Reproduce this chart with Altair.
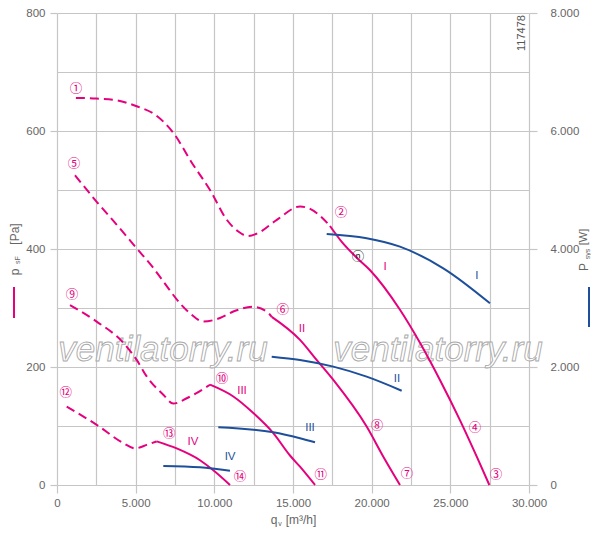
import altair as alt
import pandas as pd

PINK = "#e5007d"
BLUE = "#1d4f9b"
GRID = "#c6c6c6"
TXT = "#666666"

# ---------------- pressure curves  p_sF [Pa]  vs  q_v [m3/h]
Q_1_DASH = [1200, 2500, 3800, 5066, 6270, 7390, 8600, 9725, 10780, 11500, 12150, 12700, 13950, 15450, 16000, 16850, 17350]
P_1_DASH = [656, 655, 652, 642, 627, 597, 545, 500, 450, 430, 422, 426, 449, 472, 469, 453, 439]
Q_1_SOLID = [17350, 18100, 19100, 19900, 21800, 23070, 24340, 25610, 26680, 27480]
P_1_SOLID = [439, 412, 384, 364, 297, 241, 178, 110, 48, 0]

Q_2_DASH = [1144, 2523, 3800, 5066, 6121, 6757, 7818, 8453, 9299, 10360, 11206, 12477, 13329, 13647]
P_2_DASH = [525, 480, 441, 401, 368, 345, 308, 291, 277, 283, 294, 302, 294, 285]
Q_2_SOLID = [13647, 15445, 16500, 17563, 19682, 20741, 21800]
P_2_SOLID = [285, 246, 212, 178, 99, 48, 0]

Q_3_DASH = [826, 2523, 4214, 5066, 5701, 6757, 7392, 8244, 9725]
P_3_DASH = [305, 277, 241, 212, 184, 153, 138, 147, 170]
Q_3_SOLID = [9725, 11206, 12477, 13748, 14809, 15445, 16399]
P_3_SOLID = [170, 150, 122, 88, 50, 31, 0]

Q_4_DASH = [616, 2523, 4214, 4958, 5701, 6337]
P_4_DASH = [133, 102, 71, 62, 68, 74]
Q_4_SOLID = [6337, 7608, 9089, 9935, 10996]
P_4_SOLID = [74, 62, 42, 25, 0]

# ---------------- power curves  P_sys [W]
Q_PW_1 = [17142, 19682, 21800, 24553, 27519]
W_PW_1 = [4254, 4183, 4040, 3673, 3080]
Q_PW_2 = [13647, 15445, 17563, 19682, 21908]
W_PW_2 = [2175, 2119, 2006, 1836, 1598]
Q_PW_3 = [10252, 13748, 15445, 16399]
W_PW_3 = [978, 893, 792, 724]
Q_PW_4 = [6757, 9089, 10996]
W_PW_4 = [322, 300, 242]

# ---------------- point labels
CIRCLE_TXT = ["①", "②", "③", "④", "⑤", "⑥", "⑦", "⑧", "⑨", "⑩", "⑪", "⑫", "⑬", "⑭"]
CIRCLE_Q = [1208, 18050, 27900, 26570, 1080, 14345, 22250, 20340, 953, 10490, 16760, 553, 7140, 11630]
CIRCLE_P = [671, 461, 17, 97, 544, 297, 19, 100, 322, 180, 17, 156, 86, 14]
N_TXT = ["ⓝ"]
N_Q = [19130]
N_P = [386]

ROMAN = ["I", "II", "III", "IV"]
ROMAN_PINK_Q = [20850, 15570, 11760, 8640]
ROMAN_PINK_P = [369, 264, 159, 73]
ROMAN_BLUE_Q = [26690, 21610, 16080, 11000]
ROMAN_BLUE_W = [3540, 1800, 970, 470]

X_TICKS = list(range(0, 30001, 2500))
Y_TICKS = list(range(0, 801, 100))
W_TICKS = list(range(0, 8001, 2000))


def frame(curve, q, v):
    return pd.DataFrame({"curve": curve, "q": q, "v": v})


dash_df = pd.concat([frame("1", Q_1_DASH, P_1_DASH), frame("2", Q_2_DASH, P_2_DASH),
                     frame("3", Q_3_DASH, P_3_DASH), frame("4", Q_4_DASH, P_4_DASH)])
solid_df = pd.concat([frame("1", Q_1_SOLID, P_1_SOLID), frame("2", Q_2_SOLID, P_2_SOLID),
                      frame("3", Q_3_SOLID, P_3_SOLID), frame("4", Q_4_SOLID, P_4_SOLID)])
power_df = pd.concat([frame("1", Q_PW_1, W_PW_1), frame("2", Q_PW_2, W_PW_2),
                      frame("3", Q_PW_3, W_PW_3), frame("4", Q_PW_4, W_PW_4)])
circle_df = pd.DataFrame({"t": CIRCLE_TXT, "q": CIRCLE_Q, "v": CIRCLE_P})
n_df = pd.DataFrame({"t": N_TXT, "q": N_Q, "v": N_P})
rp_df = pd.DataFrame({"t": ROMAN, "q": ROMAN_PINK_Q, "v": ROMAN_PINK_P})
rb_df = pd.DataFrame({"t": ROMAN, "q": ROMAN_BLUE_Q, "v": ROMAN_BLUE_W})

FONT = "Liberation Sans"

X_ENC = alt.X(
    "q:Q",
    scale=alt.Scale(domain=[0, 30000], nice=False, zero=False),
    axis=alt.Axis(
        values=X_TICKS, title=None, grid=True, gridColor=GRID, gridWidth=1.2,
        domain=False, tickColor=GRID, tickWidth=1.2, tickSize=8,
        tickOpacity={"condition": {"test": "datum.value % 5000 === 0", "value": 1}, "value": 0},
        labelExpr="datum.value % 5000 === 0 ? replace(format(datum.value, ','), ',', '.') : ''",
        labelColor=TXT, labelFont=FONT, labelFontSize=11.5, labelPadding=4,
        labelFlush=False, labelOverlap=False,
    ),
)
Y_LEFT = alt.Y(
    "v:Q",
    scale=alt.Scale(domain=[0, 800], nice=False, zero=False),
    axis=alt.Axis(
        values=Y_TICKS, title=None, grid=True, gridColor=GRID, gridWidth=1.2,
        domain=False, tickColor=GRID, tickWidth=1.2, tickSize=7,
        tickOpacity={"condition": {"test": "datum.value % 200 === 0", "value": 1}, "value": 0},
        labelExpr="datum.value % 200 === 0 ? datum.label : ''",
        labelColor=TXT, labelFont=FONT, labelFontSize=11.5, labelPadding=5,
        labelOverlap=False,
    ),
)
Y_RIGHT = alt.Y(
    "v:Q",
    scale=alt.Scale(domain=[0, 8000], nice=False, zero=False),
    axis=alt.Axis(
        orient="right", values=W_TICKS, title=None, grid=False, domain=False,
        tickColor=GRID, tickWidth=1.2, tickSize=8,
        labelExpr="replace(format(datum.value, ','), ',', '.')",
        labelColor=TXT, labelFont=FONT, labelFontSize=11.5, labelPadding=13,
        labelOverlap=False,
    ),
)


def fixed_text(txt, px, py, size, color=TXT, angle=0, font=FONT, style="normal",
               fill=None, stroke=None):
    kw = dict(fontSize=size, font=font, angle=angle, align="center",
              baseline="middle", fontStyle=style)
    if stroke is not None:
        kw.update(stroke=stroke, strokeWidth=0.9, fill=fill, fillOpacity=0.55)
    else:
        kw.update(color=color)
    return alt.Chart(pd.DataFrame({"t": [txt]})).mark_text(**kw).encode(
        x=alt.value(px), y=alt.value(py), text="t:N")


def fixed_rule(px, py, py2, color):
    return alt.Chart(pd.DataFrame({"t": [0]})).mark_rule(color=color, strokeWidth=2).encode(
        x=alt.value(px), y=alt.value(py), y2=alt.value(py2))


watermark = [
    fixed_text("ventilatorry.ru", 106, 337, 35, font=FONT, style="italic", fill="white", stroke="#a9a9a9"),
    fixed_text("ventilatorry.ru", 381, 337, 35, font=FONT, style="italic", fill="white", stroke="#a9a9a9"),
]

pink_dash = alt.Chart(dash_df).mark_line(color=PINK, strokeWidth=2, strokeDash=[9, 5],
                                         interpolate="monotone").encode(x=X_ENC, y=Y_LEFT, detail="curve:N")
pink_solid = alt.Chart(solid_df).mark_line(color=PINK, strokeWidth=2,
                                           interpolate="monotone").encode(x=X_ENC, y=Y_LEFT, detail="curve:N")
circles = alt.Chart(circle_df).mark_text(color=PINK, fontSize=12.5, font="Noto Sans CJK JP").encode(
    x=X_ENC, y=Y_LEFT, text="t:N")
n_mark = alt.Chart(n_df).mark_text(color="#222222", fontSize=12.5, font="Noto Sans CJK JP").encode(
    x=X_ENC, y=Y_LEFT, text="t:N")
roman_pink = alt.Chart(rp_df).mark_text(color=PINK, fontSize=11.5, font=FONT).encode(
    x=X_ENC, y=Y_LEFT, text="t:N")

titles = [
    # left axis title p_sF [Pa]
    fixed_text("p", -42, 259, 12, angle=270),
    fixed_text("sF", -39.5, 247, 7, angle=270),
    fixed_text("[Pa]", -42, 221, 12, angle=270),
    fixed_rule(-43, 274, 305, PINK),
    # right axis title P_sys [W]
    fixed_text("P", 527, 254, 12, angle=270),
    fixed_text("sys", 530.5, 241, 7, angle=270),
    fixed_text("[W]", 527, 224, 11, angle=270),
    fixed_rule(532, 274, 314, BLUE),
    # x axis title q_v [m3/h]
    fixed_text("q", 217, 507, 12),
    fixed_text("v", 223, 511, 7),
    fixed_text("[m³/h]", 244, 507, 12),
    # drawing id
    fixed_text("117478", 465, 20, 11, color="#555555", angle=270),
]

left = alt.layer(*watermark, pink_dash, pink_solid, circles, n_mark, roman_pink, *titles)

blue = alt.Chart(power_df).mark_line(color=BLUE, strokeWidth=2, interpolate="monotone").encode(
    x=X_ENC, y=Y_RIGHT, detail="curve:N")
roman_blue = alt.Chart(rb_df).mark_text(color=BLUE, fontSize=11.5, font=FONT).encode(
    x=X_ENC, y=Y_RIGHT, text="t:N")
right = alt.layer(blue, roman_blue)

chart = alt.layer(left, right).resolve_scale(y="independent").properties(
    width=472, height=472,
    autosize=alt.AutoSizeParams(type="none"),
    padding={"left": 49, "top": 5, "right": 62, "bottom": 42},
    background="white",
).configure_view(stroke=None)

chart.save("out.html", embed_options={"renderer": "svg", "actions": False})
